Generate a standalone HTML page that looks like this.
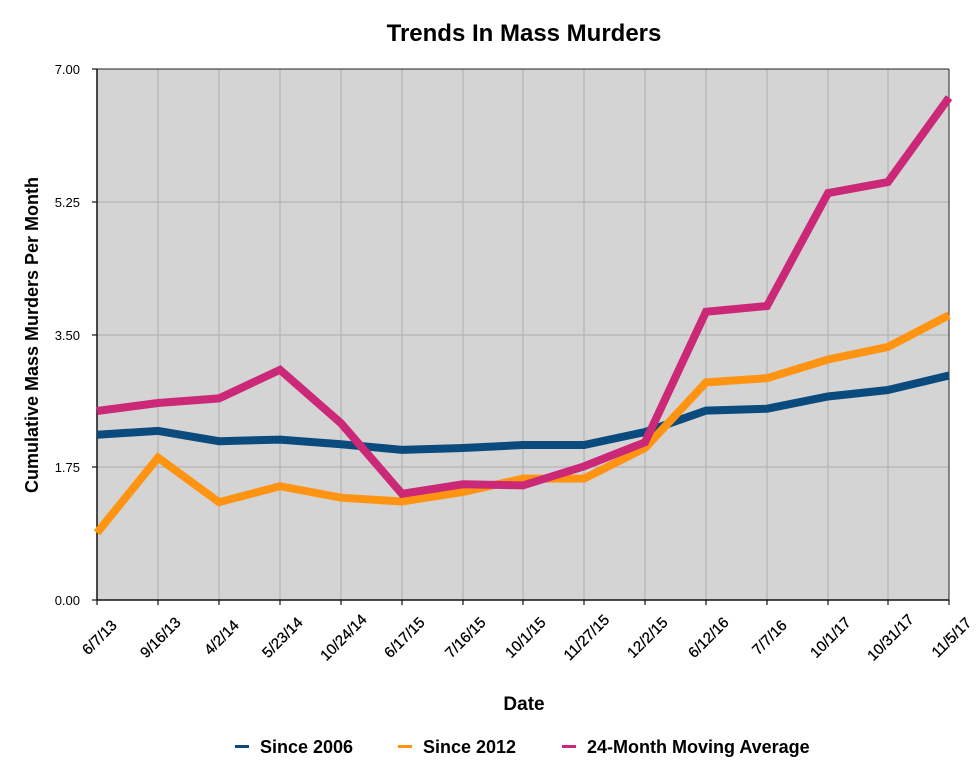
<!DOCTYPE html>
<html><head><meta charset="utf-8"><style>
body{margin:0;background:#fff;}
text{font-family:"Liberation Sans",Arial,sans-serif;}
</style></head><body>
<svg width="979" height="773" viewBox="0 0 979 773" xmlns="http://www.w3.org/2000/svg">
<text x="524" y="41" font-size="24" font-weight="bold" text-anchor="middle">Trends In Mass Murders</text>
<rect x="97" y="69" width="852" height="531" fill="#d4d4d4"/>
<g stroke="#b4b4b4" stroke-width="1.2">
<line x1="97" y1="202" x2="949" y2="202"/><line x1="97" y1="335" x2="949" y2="335"/><line x1="97" y1="467" x2="949" y2="467"/>
<line x1="158" y1="69" x2="158" y2="600"/><line x1="219" y1="69" x2="219" y2="600"/><line x1="280" y1="69" x2="280" y2="600"/><line x1="341" y1="69" x2="341" y2="600"/><line x1="402" y1="69" x2="402" y2="600"/><line x1="463" y1="69" x2="463" y2="600"/><line x1="523" y1="69" x2="523" y2="600"/><line x1="584" y1="69" x2="584" y2="600"/><line x1="645" y1="69" x2="645" y2="600"/><line x1="706" y1="69" x2="706" y2="600"/><line x1="767" y1="69" x2="767" y2="600"/><line x1="828" y1="69" x2="828" y2="600"/><line x1="888" y1="69" x2="888" y2="600"/>
</g>
<line x1="97" y1="69" x2="949" y2="69" stroke="#222" stroke-width="1"/>
<line x1="949" y1="69" x2="949" y2="600" stroke="#222" stroke-width="1"/>
<line x1="97" y1="69" x2="97" y2="600" stroke="#111" stroke-width="1.5"/>
<line x1="97" y1="600" x2="949" y2="600" stroke="#111" stroke-width="1.5"/>
<g stroke="#111" stroke-width="1.2">
<line x1="92" y1="69" x2="97" y2="69"/><line x1="92" y1="202" x2="97" y2="202"/><line x1="92" y1="335" x2="97" y2="335"/><line x1="92" y1="467" x2="97" y2="467"/><line x1="92" y1="600" x2="97" y2="600"/>
<line x1="97" y1="600" x2="97" y2="605"/><line x1="158" y1="600" x2="158" y2="605"/><line x1="219" y1="600" x2="219" y2="605"/><line x1="280" y1="600" x2="280" y2="605"/><line x1="341" y1="600" x2="341" y2="605"/><line x1="402" y1="600" x2="402" y2="605"/><line x1="463" y1="600" x2="463" y2="605"/><line x1="523" y1="600" x2="523" y2="605"/><line x1="584" y1="600" x2="584" y2="605"/><line x1="645" y1="600" x2="645" y2="605"/><line x1="706" y1="600" x2="706" y2="605"/><line x1="767" y1="600" x2="767" y2="605"/><line x1="828" y1="600" x2="828" y2="605"/><line x1="888" y1="600" x2="888" y2="605"/><line x1="949" y1="600" x2="949" y2="605"/>
</g>
<g font-size="13" text-anchor="end">
<text x="80" y="74">7.00</text><text x="80" y="207">5.25</text><text x="80" y="340">3.50</text><text x="80" y="472">1.75</text><text x="80" y="605">0.00</text>
</g>
<text transform="translate(38,335) rotate(-90)" font-size="18" font-weight="bold" text-anchor="middle">Cumulative Mass Murders Per Month</text>
<g font-size="15" text-anchor="middle" stroke="#000" stroke-width="0.3">
<text transform="translate(103,641) rotate(-45)">6/7/13</text>
<text transform="translate(164,641) rotate(-45)">9/16/13</text>
<text transform="translate(225,641) rotate(-45)">4/2/14</text>
<text transform="translate(286,641) rotate(-45)">5/23/14</text>
<text transform="translate(347,641) rotate(-45)">10/24/14</text>
<text transform="translate(408,641) rotate(-45)">6/17/15</text>
<text transform="translate(469,641) rotate(-45)">7/16/15</text>
<text transform="translate(529,641) rotate(-45)">10/1/15</text>
<text transform="translate(590,641) rotate(-45)">11/27/15</text>
<text transform="translate(651,641) rotate(-45)">12/2/15</text>
<text transform="translate(712,641) rotate(-45)">6/12/16</text>
<text transform="translate(773,641) rotate(-45)">7/7/16</text>
<text transform="translate(834,641) rotate(-45)">10/1/17</text>
<text transform="translate(894,641) rotate(-45)">10/31/17</text>
<text transform="translate(955,641) rotate(-45)">11/5/17</text>
</g>
<text x="524" y="710" font-size="19" font-weight="bold" text-anchor="middle">Date</text>
<g fill="none" stroke-width="8" stroke-linejoin="miter">
<polyline stroke="#0b4a7c" points="97,434.7 158,430.9 219,441.2 280,439.6 341,444.2 402,449.9 463,448 523,445 584,445 645,432 706,410.6 767,408.7 828,396.5 888,390 949,375.5"/>
<polyline stroke="#ff9412" points="97,532.8 158,457.6 219,502.2 280,486.2 341,497.7 402,501.5 463,492 523,478.6 584,478.6 645,448 706,382.4 767,378.2 828,359.5 888,346.9 949,315.2"/>
<polyline stroke="#cc2878" points="97,411 158,403 219,398.4 280,369.8 341,423.2 402,493.8 463,484.3 523,485.4 584,466.4 645,442.3 706,311.8 767,306 828,193.1 888,182 949,97.6"/>
</g>
<g font-size="18" font-weight="bold">
<rect x="235" y="745" width="14" height="3" fill="#0b4a7c"/><text x="260" y="753">Since 2006</text>
<rect x="398" y="745" width="14" height="3" fill="#ff9412"/><text x="423" y="753">Since 2012</text>
<rect x="562" y="745" width="14" height="3" fill="#cc2878"/><text x="587" y="753">24-Month Moving Average</text>
</g>
</svg>
</body></html>
